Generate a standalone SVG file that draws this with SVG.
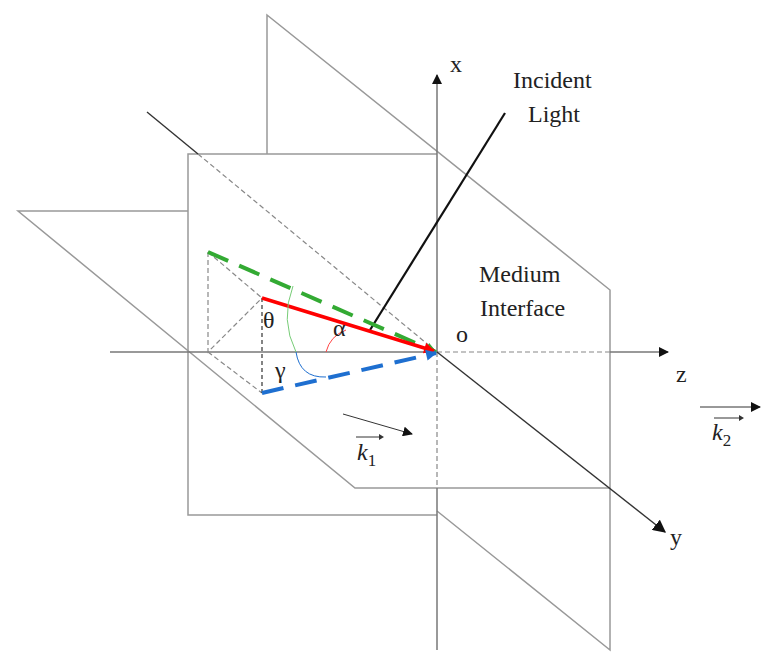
<svg xmlns="http://www.w3.org/2000/svg" width="780" height="671" viewBox="0 0 780 671">
<style>
.pl{stroke:#999;stroke-width:1.5;fill:none}
.ax{stroke:#777;stroke-width:1.5;fill:none}
.dk{stroke:#333;stroke-width:1.4;fill:none}
.hd{stroke:#888;stroke-width:1.2;fill:none;stroke-dasharray:5 3}
.hk{stroke:#333;stroke-width:1.2;fill:none;stroke-dasharray:4 3}
text{font-family:"Liberation Serif",serif;font-size:24px;fill:#222}
</style>
<defs>
<marker id="ah" viewBox="0 0 10 10" refX="9" refY="5" markerWidth="10" markerHeight="10" orient="auto" markerUnits="userSpaceOnUse"><path d="M0,0L10,5L0,10z" fill="#111"/></marker>
<marker id="ahs" viewBox="0 0 10 10" refX="9" refY="5" markerWidth="13" markerHeight="13" orient="auto" markerUnits="userSpaceOnUse"><path d="M0,0L10,5L0,10z" fill="#111"/></marker>
<marker id="ar" viewBox="0 0 10 10" refX="9" refY="5" markerWidth="13" markerHeight="11" orient="auto" markerUnits="userSpaceOnUse"><path d="M0,0L10,5L0,10z" fill="#f00"/></marker>
<marker id="ag" viewBox="0 0 10 10" refX="9" refY="5" markerWidth="13" markerHeight="11" orient="auto" markerUnits="userSpaceOnUse"><path d="M0,0L10,5L0,10z" fill="#3a3"/></marker>
<marker id="ab" viewBox="0 0 10 10" refX="9" refY="5" markerWidth="13" markerHeight="11" orient="auto" markerUnits="userSpaceOnUse"><path d="M0,0L10,5L0,10z" fill="#1e6fd0"/></marker>
</defs>
<g id="planes">
<path class="pl" d="M267,154V15L610,290V650L437,511M437,515H188V154H437"/>
<path class="pl" d="M188,211H18L355,488H610"/>
</g>
<g id="connectors">
<path class="ax" d="M110,352H437"/>
<path class="hd" d="M437,352H610"/>
<path class="ax" d="M610,352H668" marker-end="url(#ah)"/>
<path class="ax" d="M437,352V75" marker-end="url(#ah)"/>
<path class="hd" d="M437,352V488"/>
<path class="ax" d="M437,488V650"/>
<path class="dk" d="M147,112L198,154"/>
<path class="hd" d="M198,154L437,352"/>
<path class="dk" d="M437,352L665,532" marker-end="url(#ahs)"/>
<path class="hd" d="M208,252V352L262,298M208,252L262,298M208,352L262,393"/>
<path class="hk" d="M262,298V393"/>
<path d="M505,113L370,330" stroke="#111" stroke-width="2.2"/>
<path d="M208,252L436,352" stroke="#3a3" stroke-width="4" stroke-dasharray="22 12" marker-end="url(#ag)"/>
<path d="M262,298L434,351" stroke="#f00" stroke-width="3.5" marker-end="url(#ar)"/>
<path d="M262,393L436,353" stroke="#1e6fd0" stroke-width="4" stroke-dasharray="22 12" marker-end="url(#ab)"/>
<path d="M293,286Q280,320 296,352" stroke="#7c7" stroke-width="1" fill="none"/>
<path d="M296,352Q300,378 326,377" stroke="#1e6fd0" stroke-width="1" fill="none"/>
<path d="M326,352Q330,336 346,330" stroke="#f44" stroke-width="1" fill="none"/>
<path d="M343,414L412,434" stroke="#333" stroke-width="1" marker-end="url(#ah)"/>
<path d="M700,407L760,407" stroke="#333" stroke-width="1" marker-end="url(#ah)"/>
<path d="M356,437H382M714,418H742" stroke="#333" stroke-width="1"/>
<path d="M379,434L384,437L379,440zM739,415L744,418L739,421z" fill="#333"/>
</g>
<g id="labels">
<text x="450" y="72">x</text>
<text x="513" y="88">Incident</text>
<text x="528" y="122">Light</text>
<text x="479" y="282">Medium</text>
<text x="480" y="316">Interface</text>
<text x="456" y="342">o</text>
<text x="676" y="382">z</text>
<text x="670" y="545">y</text>
<text x="263" y="328">θ</text>
<text x="333" y="336">α</text>
<text x="275" y="378">γ</text>
<text x="357" y="460" font-style="italic" font-family="Liberation Serif,serif" font-size="26">k<tspan font-size="17" dy="6" font-style="normal">1</tspan></text>
<text x="712" y="440" font-style="italic" font-family="Liberation Serif,serif" font-size="26">k<tspan font-size="17" dy="6" font-style="normal">2</tspan></text>
</g>
</svg>
